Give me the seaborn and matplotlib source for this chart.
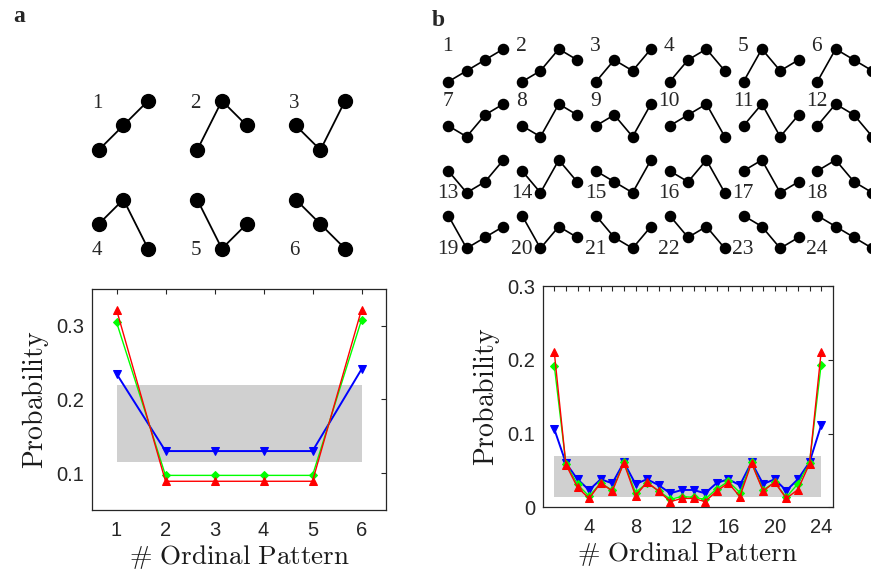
import numpy as np
import pandas as pd
import seaborn as sns
import matplotlib
matplotlib.use('Agg')
import matplotlib.pyplot as plt

# ---------------- data ----------------
patterns_a = [(0, 1, 2), (0, 2, 1), (1, 0, 2), (1, 2, 0), (2, 0, 1), (2, 1, 0)]
patterns_b = [(0, 1, 2, 3), (0, 1, 3, 2), (0, 2, 1, 3), (0, 2, 3, 1), (0, 3, 1, 2), (0, 3, 2, 1),
              (1, 0, 2, 3), (1, 0, 3, 2), (1, 2, 0, 3), (1, 2, 3, 0), (1, 3, 0, 2), (1, 3, 2, 0),
              (2, 0, 1, 3), (2, 0, 3, 1), (2, 1, 0, 3), (2, 1, 3, 0), (2, 3, 0, 1), (2, 3, 1, 0),
              (3, 0, 1, 2), (3, 0, 2, 1), (3, 1, 0, 2), (3, 1, 2, 0), (3, 2, 0, 1), (3, 2, 1, 0)]

x_a = [1, 2, 3, 4, 5, 6]
red_a = [0.322, 0.089, 0.089, 0.089, 0.089, 0.322]
green_a = [0.305, 0.097, 0.097, 0.097, 0.097, 0.308]
blue_a = [0.235, 0.130, 0.130, 0.130, 0.130, 0.241]
band_a = [0.115, 0.220]

x_b = list(range(1, 25))
red_b = [0.210, 0.058, 0.027, 0.012, 0.033, 0.022, 0.060, 0.0157, 0.034, 0.022, 0.0077, 0.012,
         0.012, 0.0077, 0.022, 0.033, 0.0145, 0.060, 0.022, 0.034, 0.012, 0.024, 0.059, 0.210]
green_b = [0.192, 0.059, 0.031, 0.015, 0.033, 0.023, 0.061, 0.020, 0.033, 0.022, 0.011, 0.0145,
           0.0136, 0.011, 0.025, 0.035, 0.020, 0.061, 0.0235, 0.034, 0.0136, 0.032, 0.060, 0.193]
blue_b = [0.106, 0.060, 0.038, 0.0234, 0.038, 0.0325, 0.061, 0.0316, 0.038, 0.030, 0.019, 0.0235,
          0.0235, 0.019, 0.033, 0.038, 0.030, 0.061, 0.0316, 0.038, 0.0226, 0.038, 0.061, 0.111]
band_b = [0.014, 0.070]

yticks_a = [0.1, 0.2, 0.3]
ytick_labels_a = ['0.1', '0.2', '0.3']
yticks_b = [0, 0.1, 0.2, 0.3]
ytick_labels_b = ['0', '0.1', '0.2', '0.3']

xlabel_text = r'$\#\ \mathrm{Ordinal\ Pattern}$'
ylabel_text = r'$\mathrm{Probability}$'

# ---------------- style ----------------
sns.set_style('white')
plt.rcParams['font.family'] = ['Liberation Sans', 'DejaVu Sans']
plt.rcParams['mathtext.fontset'] = 'cm'

W, H = 871, 572
fig = plt.figure(figsize=(W / 100, H / 100), dpi=100)

def px_axes(left, top, right, bottom):
    return fig.add_axes([left / W, 1 - bottom / H, (right - left) / W, (bottom - top) / H])

FRAME = '#262626'

def style_axes(ax):
    for s in ax.spines.values():
        s.set_color(FRAME)
        s.set_linewidth(0.9)
    ax.tick_params(direction='in', top=True, right=True, length=3.5, width=0.8,
                   colors=FRAME, labelsize=14.5, labelcolor=FRAME)
    ax.tick_params(axis='x', pad=8)
    ax.tick_params(axis='y', pad=5.5)

def draw_series(ax, x, red, green, blue, band, ms):
    ax.fill_between([x[0], x[-1]], band[0], band[1], color='#d0d0d0', lw=0, zorder=1)
    df = pd.DataFrame({'x': x, 'red': red, 'green': green, 'blue': blue})
    sns.lineplot(data=df, x='x', y='blue', ax=ax, color='#0000ff', marker='v', markersize=ms,
                 markeredgecolor='#0000ff', linewidth=1.4, sort=False, zorder=3)
    sns.lineplot(data=df, x='x', y='green', ax=ax, color='#00ff00', marker='D', markersize=ms * 0.7,
                 markeredgecolor='#00ff00', linewidth=1.0, sort=False, zorder=4)
    sns.lineplot(data=df, x='x', y='red', ax=ax, color='#ff0000', marker='^', markersize=ms,
                 markeredgecolor='#ff0000', linewidth=1.0, sort=False, zorder=5)

# ---------------- panel a plot ----------------
ax_a = px_axes(92, 289, 386, 510)
draw_series(ax_a, x_a, red_a, green_a, blue_a, band_a, 6)
ax_a.set_xlim(0.5, 6.5)
ax_a.set_ylim(0.05, 0.35)
ax_a.set_xticks(x_a)
ax_a.set_yticks(yticks_a)
ax_a.set_yticklabels(ytick_labels_a)
style_axes(ax_a)
ax_a.set_xlabel(xlabel_text, fontsize=19.5, labelpad=2, color='#1a1a1a')
ax_a.set_ylabel(ylabel_text, fontsize=20, labelpad=4, color='#1a1a1a')

# ---------------- panel b plot ----------------
ax_b = px_axes(542.7, 286, 832.7, 507.3)
draw_series(ax_b, x_b, red_b, green_b, blue_b, band_b, 5.5)
ax_b.set_xlim(0, 25)
ax_b.set_ylim(0, 0.3)
ax_b.set_xticks(x_b)
ax_b.set_xticklabels([str(v) if v % 4 == 0 else '' for v in x_b])
ax_b.set_yticks(yticks_b)
ax_b.set_yticklabels(ytick_labels_b)
style_axes(ax_b)
ax_b.set_xlabel(xlabel_text, fontsize=19.5, labelpad=2, color='#1a1a1a')
ax_b.set_ylabel(ylabel_text, fontsize=20, labelpad=4, color='#1a1a1a')

# ---------------- pattern sketches (overlay in pixel coordinates) ----------------
ov = fig.add_axes([0, 0, 1, 1], zorder=-1)
ov.set_xlim(0, W)
ov.set_ylim(H, 0)
ov.axis('off')

SERIF = ['Liberation Serif', 'DejaVu Serif']

# panel a: 2 rows x 3 columns
for i, pat in enumerate(patterns_a):
    r, c = divmod(i, 3)
    x0 = 98.7 + c * 98.5
    base = 150 if r == 0 else 248.7
    xs = [x0 + k * 24.7 for k in range(3)]
    ys = [base - v * 24.6 for v in pat]
    ov.plot(xs, ys, color='black', lw=1.3, marker='o', markersize=10, zorder=2)
    if r == 0:
        ov.text(x0 - 1.5, base - 2 * 24.6 + 3, str(i + 1), ha='center', va='center',
                fontsize=15, family=SERIF)
    else:
        ov.text(x0 - 1.5, base + 1.5, str(i + 1), ha='center', va='center',
                fontsize=15, family=SERIF)

# panel b: 4 rows x 6 columns
row_base_b = [81.7, 136.7, 192.7, 248.3]
for i, pat in enumerate(patterns_b):
    r, c = divmod(i, 6)
    x0 = 448.3 + c * 73.8
    base = row_base_b[r]
    xs = [x0 + k * 18.35 for k in range(4)]
    ys = [base - v * 10.9 for v in pat]
    ov.plot(xs, ys, color='black', lw=1.2, marker='o', markersize=7.3, zorder=2, clip_on=False)
    if r < 2:
        ov.text(x0 - 0.5, base - 3 * 10.9 - 2.5, str(i + 1), ha='center', va='center',
                fontsize=15.5, family=SERIF)
    else:
        ov.text(x0 - 0.5, base + 1, str(i + 1), ha='center', va='center',
                fontsize=15.5, family=SERIF)

# panel letters
ov.text(19, 17, 'a', ha='center', va='center', fontsize=17, fontweight='bold', family=SERIF)
ov.text(438, 21, 'b', ha='center', va='center', fontsize=17, fontweight='bold', family=SERIF)

fig.savefig('out.png', dpi=100)
